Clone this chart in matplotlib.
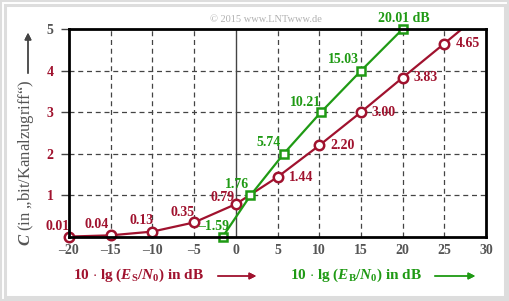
import numpy as np
import matplotlib
matplotlib.use("Agg")
import matplotlib.pyplot as plt
from matplotlib.patches import Rectangle

plt.rcParams['font.family'] = ['Liberation Serif', 'DejaVu Serif']
plt.rcParams['mathtext.fontset'] = 'custom'
plt.rcParams['mathtext.rm'] = 'Liberation Serif:bold'
plt.rcParams['mathtext.it'] = 'Liberation Serif:italic:bold'
plt.rcParams['mathtext.bf'] = 'Liberation Serif:bold'

# capacity over 10 lg(Es/N0)
es_db = [-20, -15, -10, -5, 0, 5, 10, 15, 20, 25]
c_es = [0.01, 0.04, 0.13, 0.35, 0.79, 1.44, 2.20, 3.00, 3.83, 4.65]
es_labels = ["0.01", "0.04", "0.13", "0.35", "0.79", "1.44", "2.20", "3.00", "3.83", "4.65"]
# continuation of the red curve beyond the last marker (clipped at the frame)
es_ext = [25, 30]
c_ext = [4.65, 5.48]

# capacity over 10 lg(EB/N0)
eb_db = [-1.59, 1.76, 5.74, 10.21, 15.03, 20.01]
c_eb = [0, 1, 2, 3, 4, 5]
eb_labels = ["\u20131.59", "1.76", "5.74", "10.21", "15.03", "20.01 dB"]

xticks = [-20, -15, -10, -5, 0, 5, 10, 15, 20, 25, 30]
xticklabels = ["\u201320", "\u201315", "\u201310", "\u20135", "0", "5", "10", "15", "20", "25", "30"]
yticks = [1, 2, 3, 4, 5]

red = '#a0122e'
green = '#1f9a14'
grey = '#555555'

fig = plt.figure(figsize=(5.09, 3.01), dpi=100)
ax = fig.add_axes([69/509, 1-237/301, 417/509, 208/301])

ax.set_xlim(-20, 30)
ax.set_ylim(0, 5)

for x in [-15, -10, -5, 5, 10, 15, 20, 25]:
    ax.axvline(x, color='#444444', lw=0.9, ls=(0, (4, 3)), zorder=1)
for y in [1, 2, 3, 4]:
    ax.axhline(y, color='#444444', lw=0.9, ls=(0, (4, 3)), zorder=1)
ax.axvline(0, color='#444444', lw=1.0, zorder=1)

ax.plot(es_ext, c_ext, color=red, lw=1.6, zorder=3)
ax.plot(es_db, c_es, color=red, lw=1.6, marker='o', ms=6.8, mfc='white',
        mec=red, mew=1.8, zorder=4, clip_on=False)
ax.plot(eb_db, c_eb, color=green, lw=1.6, marker='s', ms=6.0, mfc='white',
        mec=green, mew=1.8, zorder=5, clip_on=False)

# red value labels
red_off = [(-11, 10), (-14, 11), (-11, 11), (-12, 10), (-13, 7),
           (11, 0), (11, 0), (11, 0), (11, 0), (11, 0)]
for x, y, s, o in zip(es_db, c_es, es_labels, red_off):
    ha = 'left' if o[0] > 0 else 'center'
    ax.annotate(s, (x, y), xytext=o, textcoords='offset pixels', color=red,
                fontsize=10, fontweight='bold', ha=ha, va='center', zorder=6,
                annotation_clip=False)

green_off = [(-9, 10), (-13, 11), (-15, 11), (-15, 10), (-18, 11), (1, 10)]
for x, y, s, o in zip(eb_db, c_eb, eb_labels, green_off):
    ax.annotate(s, (x, y), xytext=o, textcoords='offset pixels', color=green,
                fontsize=10, fontweight='bold', ha='center', va='center', zorder=6,
                annotation_clip=False)

ax.set_xticks(xticks)
ax.set_xticklabels(xticklabels, fontsize=10, fontweight='bold', color=grey)
ax.set_yticks(yticks)
ax.set_yticklabels([str(v) for v in yticks], fontsize=10, fontweight='bold')
for i, t in enumerate(ax.get_yticklabels()):
    t.set_color(grey if yticks[i] == 5 else red)
ax.tick_params(axis='x', length=0, pad=5)
ax.tick_params(axis='y', length=6, width=1.0, color='#444444', pad=5)

for sp in ax.spines.values():
    sp.set_linewidth(2.0)
    sp.set_color('black')
    sp.set_zorder(7)

# axis captions
fig.text(138/509, 1-275/301, r"10 $\cdot$ lg ($E_\mathrm{S}/N_0$) in dB", color=red,
         fontsize=11, fontweight='bold', ha='center', va='center')
fig.text(356/509, 1-275/301, r"10 $\cdot$ lg ($E_\mathrm{B}/N_0$) in dB", color=green,
         fontsize=11, fontweight='bold', ha='center', va='center')
fig.add_artist(plt.annotate('', xy=(259/509, 1-276/301), xytext=(215/509, 1-276/301),
                            xycoords='figure fraction',
                            arrowprops=dict(arrowstyle='-|>', color=red, lw=1.0,
                                            mutation_scale=10)))
fig.add_artist(plt.annotate('', xy=(478/509, 1-276/301), xytext=(432/509, 1-276/301),
                            xycoords='figure fraction',
                            arrowprops=dict(arrowstyle='-|>', color=green, lw=1.0,
                                            mutation_scale=10)))

fig.text(26/509, 1-163/301, "$C$ (in \u201ebit/Kanalzugriff\u201c)", color=grey,
         fontsize=12, rotation=90, ha='center', va='center')
fig.add_artist(plt.annotate('', xy=(28/509, 1-30/301), xytext=(28/509, 1-76/301),
                            xycoords='figure fraction',
                            arrowprops=dict(arrowstyle='-|>', color='#444444', lw=1.0,
                                            mutation_scale=10)))

fig.text(266/509, 1-19/301, "\u00a9 2015 www.LNTwww.de", color='#b0b0b0',
         fontsize=7.5, ha='center', va='center')

# page frame
fig.add_artist(Rectangle((1/509, 1/301), 507/509, 299/301, transform=fig.transFigure,
                         fill=False, ec='#dddddd', lw=1.5))
fig.add_artist(Rectangle((4.5/509, 4.5/301), 500/509, 292/301, transform=fig.transFigure,
                         fill=False, ec='#dddddd', lw=2.2))

fig.savefig('out.png', dpi=100)
